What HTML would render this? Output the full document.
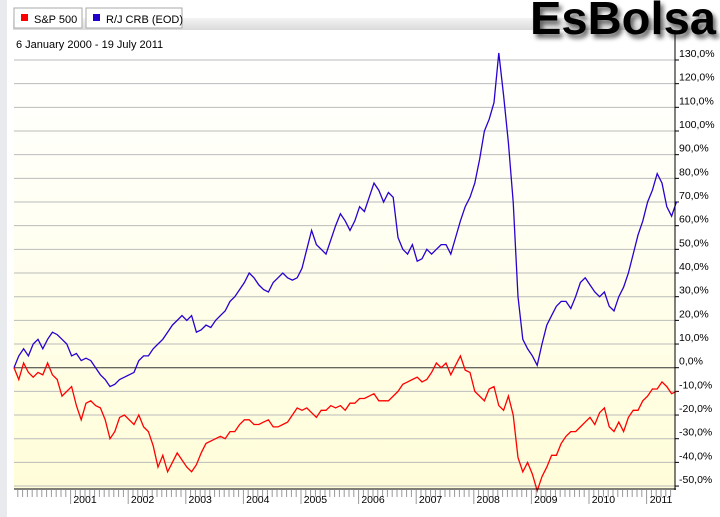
<!DOCTYPE html>
<html><head><meta charset="utf-8"><style>
body{margin:0;background:#fff;font-family:"Liberation Sans",sans-serif}
svg{display:block}
</style></head><body>
<svg id="chart" width="720" height="517" viewBox="0 0 720 517" xmlns="http://www.w3.org/2000/svg">
<defs>
<linearGradient id="bg" x1="0" y1="0" x2="0" y2="1">
<stop offset="0" stop-color="#ffffff"/><stop offset="0.35" stop-color="#fffff4"/><stop offset="1" stop-color="#fffdd8"/>
</linearGradient>
<linearGradient id="bar" x1="0" y1="0" x2="0" y2="1">
<stop offset="0" stop-color="#f4f4f4"/><stop offset="1" stop-color="#dadada"/>
</linearGradient>
<filter id="blur"><feGaussianBlur stdDeviation="2.5"/></filter>
</defs>
<rect x="0" y="0" width="7" height="517" fill="#e8eaee"/>
<rect x="13" y="18" width="700" height="12" fill="url(#bar)"/>
<g>
<rect x="14" y="8" width="68" height="20" fill="#fff" stroke="#aaa"/>
<rect x="21" y="14" width="7" height="7" fill="#ff0000"/>
<text x="34" y="23" font-size="11" fill="#000">S&amp;P 500</text>
</g>
<g>
<rect x="86" y="8" width="96" height="20" fill="#fff" stroke="#aaa"/>
<rect x="93" y="14" width="7" height="7" fill="#2200cc"/>
<text x="106" y="23" font-size="11" fill="#000">R/J CRB (EOD)</text>
</g>
<text x="16" y="48" font-size="11" fill="#000">6 January 2000 - 19 July 2011</text>
<g>
<text x="533" y="38" font-size="46" font-weight="bold" fill="#000" opacity="0.6" filter="url(#blur)" textLength="186" lengthAdjust="spacingAndGlyphs">EsBolsa</text>
<text x="530" y="34" font-size="46" font-weight="bold" fill="#000" textLength="186" lengthAdjust="spacingAndGlyphs">EsBolsa</text>
</g>
<rect x="14" y="55" width="661" height="434" fill="url(#bg)"/>
<g id="grid"></g>
<g id="series"></g>
<line x1="675" y1="33" x2="675" y2="490" stroke="#000"/>
<line x1="14" y1="489" x2="676" y2="489" stroke="#000"/>
<g id="xaxis"></g>
</svg>
<script>
const years = [2000,2001,2002,2003,2004,2005,2006,2007,2008,2009,2010,2011];
const yTicks = [130,120,110,100,90,80,70,60,50,40,30,20,10,0,-10,-20,-30,-40,-50];
const xLabels = [2001,2002,2003,2004,2005,2006,2007,2008,2009,2010,2011];
const sp500 = [
0,-5,2,-2,-4,-2,-3,2,-3,-5,-12,-10,
-8,-16,-22,-15,-14,-16,-17,-22,-30,-27,-21,-20,
-22,-24,-20,-25,-27,-33,-42,-37,-44,-40,-36,-39,
-42,-44,-41,-36,-32,-31,-30,-29,-30,-27,-27,-24,
-22,-22,-24,-24,-23,-22,-25,-25,-24,-23,-20,-17,
-18,-17,-19,-21,-18,-18,-16,-17,-16,-18,-15,-15,
-13,-13,-12,-11,-14,-14,-14,-12,-10,-7,-6,-5,
-4,-6,-5,-2,2,0,2,-3,1,5,-1,-2,
-10,-12,-14,-9,-8,-16,-18,-12,-20,-38,-44,-40,
-45,-52,-46,-42,-37,-37,-32,-29,-27,-27,-25,-23,
-21,-24,-19,-17,-25,-27,-23,-27,-21,-18,-18,-14,
-12,-9,-9,-6,-8,-11,-10];
const crb = [
0,5,8,5,10,12,8,12,15,14,12,10,
5,6,3,4,3,0,-3,-5,-8,-7,-5,-4,
-3,-2,3,5,5,8,10,12,15,18,20,22,
20,22,15,16,18,17,20,22,24,28,30,33,
36,40,38,35,33,32,36,38,40,38,37,38,
42,50,58,52,50,48,54,60,65,62,58,62,
68,66,72,78,75,70,74,72,55,50,48,52,
45,46,50,48,50,52,52,48,55,62,68,72,
78,88,100,105,112,133,115,95,70,30,12,8,
5,1,10,18,22,26,28,28,25,30,36,38,
35,32,30,32,26,24,30,34,40,48,56,62,
70,75,82,78,68,64,70];
const NS="http://www.w3.org/2000/svg";
const xScale = t => 13 + (t-2000)*57.6;
const yScale = v => 367.7 - v*2.367;
function mk(tag, attrs, parent){const e=document.createElementNS(NS,tag);for(const k in attrs)e.setAttribute(k,attrs[k]);parent.appendChild(e);return e;}
const grid=document.getElementById('grid');
yTicks.forEach(v=>{
  const y=yScale(v);
  const l=mk('line',{x1:14,x2:675,y1:y,y2:y,stroke:v===0?'#333':'#bbb','stroke-width':1},grid);
  
  
  mk('line',{x1:675,x2:679,y1:y,y2:y,stroke:'#000'},grid);
  const t=mk('text',{x:679,y:y-3,'font-size':10.5,fill:'#000'},grid);
  t.textContent=v.toFixed(1).replace('.',',')+'%';
  
  
});
const xa=document.getElementById('xaxis');
for(let m=0;m<=139;m++){
  const x=xScale(2000+m/12);
  if(x<14||x>675)continue;
  const major=m%12===0;
  mk('line',{x1:x,x2:x,y1:490,y2:major?504:497,stroke:'#999'},xa);
}
xLabels.forEach(yr=>{
  const t=mk('text',{x:xScale(yr+0.25),y:503,'font-size':10.5,fill:'#000','text-anchor':'middle'},xa);
  t.textContent=yr;
  
  
});
const ser=document.getElementById('series');
function drawLine(data,color,name){
  const pts=data.map((v,i)=>xScale(2000+(i+0.2)/12).toFixed(1)+','+yScale(v).toFixed(1)).join(' ');
  const p=mk('polyline',{points:pts,fill:'none',stroke:color,'stroke-width':1.3},ser);
  
  
}
drawLine(crb,'#2a00d0','crb-line');
drawLine(sp500,'#ff0000','sp500-line');
</script>
</body></html>
